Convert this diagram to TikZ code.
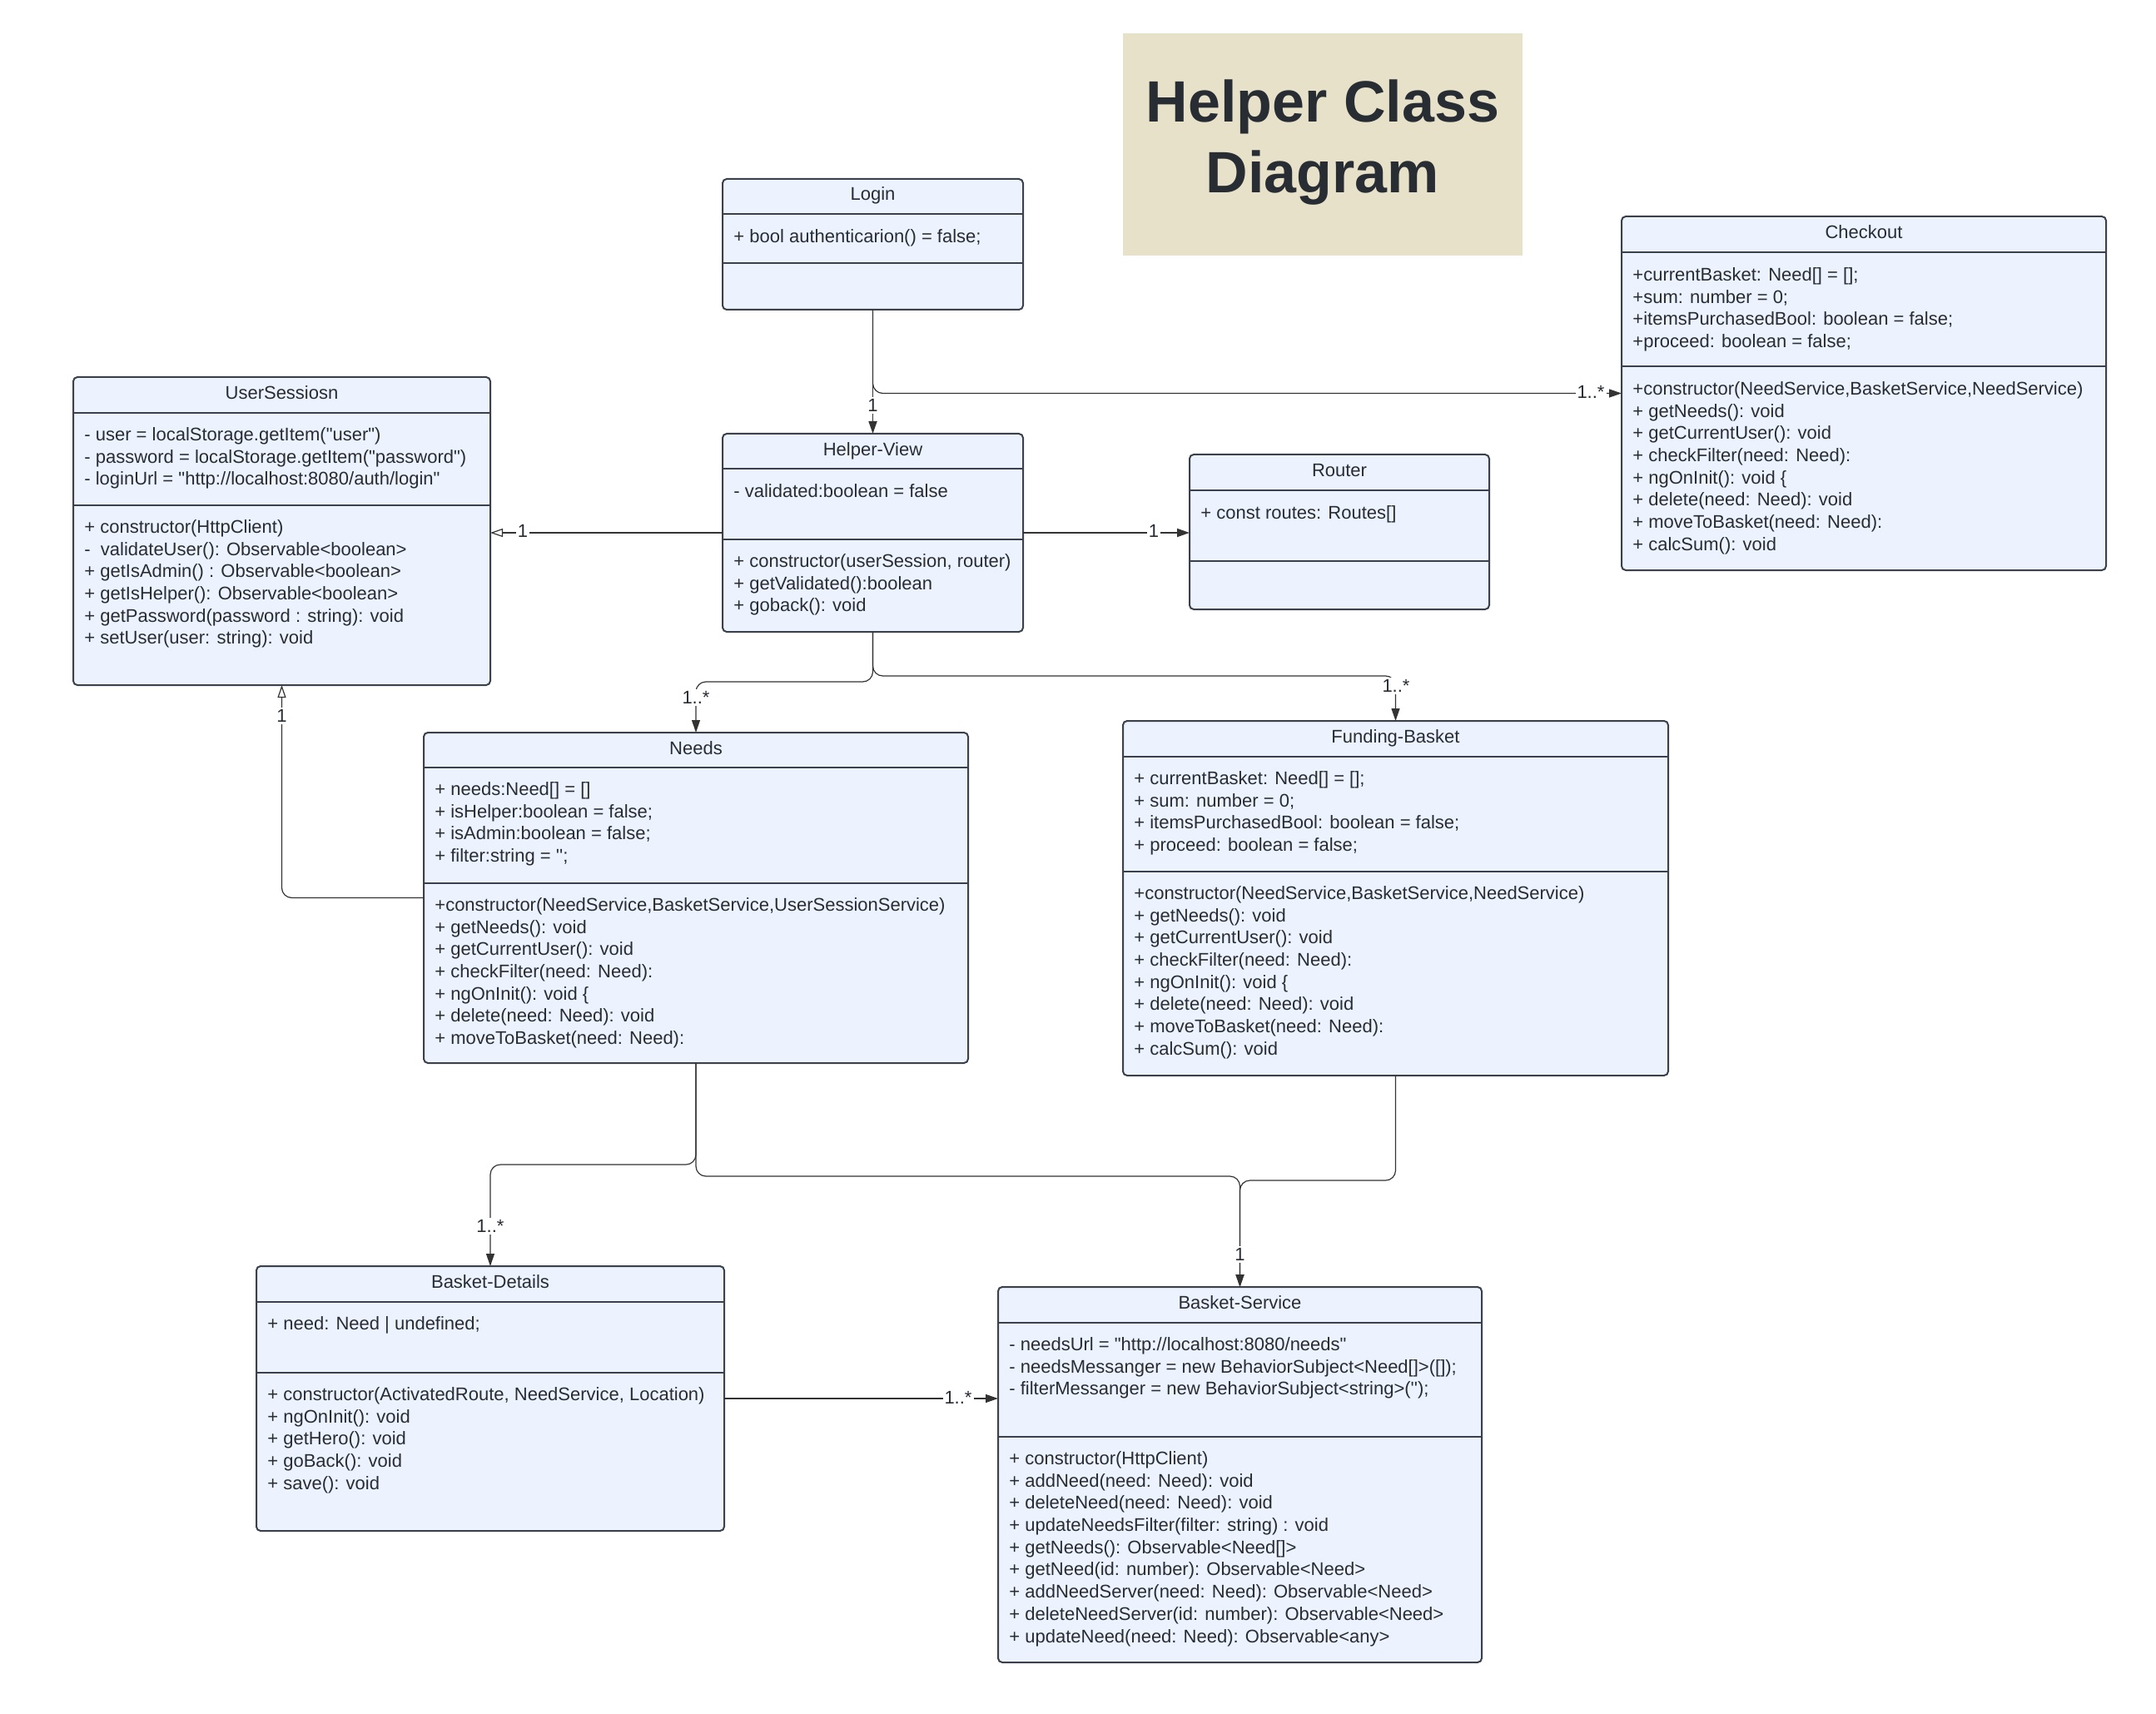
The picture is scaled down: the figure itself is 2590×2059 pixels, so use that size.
\documentclass[tikz,border=0pt]{standalone}
\usepackage{fontspec}
\setmainfont{Liberation Sans}[Ligatures=TeXOff]
\usetikzlibrary{arrows.meta,fit,calc}
\definecolor{boxfill}{HTML}{EDF3FE}
\definecolor{boxline}{HTML}{3A414A}
\definecolor{txt}{HTML}{282C33}
\definecolor{connc}{HTML}{333333}
\definecolor{titlebg}{HTML}{E7E1C9}
\newcommand{\dq}{\symbol{34}}
\newcommand{\sq}{\symbol{39}}
\tikzset{
 classbox/.style={draw=boxline, fill=boxfill, line width=1pt, rounded corners=2.5pt, inner sep=0pt, outer sep=0pt},
 sepline/.style={draw=boxline, line width=1pt},
 classtitle/.style={anchor=base, inner sep=0pt, text=txt, font=\fontsize{11}{13.35}\selectfont},
 comptext/.style={anchor=north west, inner sep=0pt, align=left, text=txt, font=\fontsize{11}{13.35}\selectfont},
 conn/.style={draw=connc, line width=0.6pt, rounded corners=6pt},
 fillarrow/.style={-{Triangle[length=7.5pt,width=5pt]}},
 openarrow/.style={-{Triangle[open,length=7.5pt,width=5pt,fill=white]}},
 mult/.style={fill=white, inner sep=1pt, text=txt, font=\fontsize{11}{13.35}\selectfont},
}
\newcommand{\umlbox}[8]{%
 \node[classbox, fit={(#2,#3) (#4,#5)}] (#1) {};
 \draw[sepline] (#2,#6) -- (#4,#6);
 \draw[sepline] (#2,#7) -- (#4,#7);
 \node[classtitle] (#1-title) at ({(#2+#4)/2},{(#3+#6)/2+5}) {#8};
}
\newcommand{\umltext}[4]{%
 \node[comptext] (#1) at (#2+13, #3-18.69) {\strut#4};
}
\begin{document}
\begin{tikzpicture}[x=0.5pt, y=-0.5pt]
\useasboundingbox (0,0) rectangle (2590,2059);
\fill[white] (0,0) rectangle (2590,2059);

% title
\node[fit={(1349,40) (1829,307)}, fill=titlebg, inner sep=0pt] (titlebox) {};
\node[anchor=north, inner sep=0pt, align=center, text=txt, font=\fontsize{35}{42.5}\selectfont\bfseries] (title) at (1589, 86.5) {\strut Helper Class\\Diagram};

% classes
\umlbox{login}{868}{215}{1229}{372}{257}{316}{Login}
\umltext{login-attr}{868}{291}{+ bool authenticarion() = false;}

\umlbox{helper}{868}{521}{1229}{759}{563}{648}{Helper-View}
\umltext{helper-attr}{868}{597}{- validated:boolean = false}
\umltext{helper-meth}{868}{681}{+ constructor(userSession, router)\\+ getValidated():boolean\\+ goback(): void}

\umlbox{us}{88}{453}{589}{823}{496}{607}{UserSessiosn}
\umltext{us-attr}{88}{529}{- user = localStorage.getItem(\dq user\dq)\\- password = localStorage.getItem(\dq password\dq)\\- loginUrl = \dq http://localhost:8080/auth/login\dq}
\umltext{us-meth}{88}{640}{+ constructor(HttpClient)\\-\ \ validateUser(): Observable<boolean>\\+ getIsAdmin() : Observable<boolean>\\+ getIsHelper(): Observable<boolean>\\+ getPassword(password : string): void\\+ setUser(user: string): void}

\umlbox{router}{1429}{546}{1789}{732}{589}{674}{Router}
\umltext{router-attr}{1429}{623}{+ const routes: Routes[]}

\umlbox{checkout}{1948}{260}{2530}{685}{303}{440}{Checkout}
\umltext{checkout-attr}{1948}{337}{+currentBasket: Need[] = [];\\+sum: number = 0;\\+itemsPurchasedBool: boolean = false;\\+proceed: boolean = false;}
\umltext{checkout-meth}{1948}{474}{+constructor(NeedService,BasketService,NeedService)\\+ getNeeds(): void\\+ getCurrentUser(): void\\+ checkFilter(need: Need):\\+ ngOnInit(): void \{\\+ delete(need: Need): void\\+ moveToBasket(need: Need):\\+ calcSum(): void}

\umlbox{needs}{509}{880}{1163}{1277}{922}{1061}{Needs}
\umltext{needs-attr}{509}{955}{+ needs:Need[] = []\\+ isHelper:boolean = false;\\+ isAdmin:boolean = false;\\+ filter:string = \sq\sq;}
\umltext{needs-meth}{509}{1094}{+constructor(NeedService,BasketService,UserSessionService)\\+ getNeeds(): void\\+ getCurrentUser(): void\\+ checkFilter(need: Need):\\+ ngOnInit(): void \{\\+ delete(need: Need): void\\+ moveToBasket(need: Need):}

\umlbox{funding}{1349}{866}{2004}{1292}{909}{1047}{Funding-Basket}
\umltext{funding-attr}{1349}{942}{+ currentBasket: Need[] = [];\\+ sum: number = 0;\\+ itemsPurchasedBool: boolean = false;\\+ proceed: boolean = false;}
\umltext{funding-meth}{1349}{1080}{+constructor(NeedService,BasketService,NeedService)\\+ getNeeds(): void\\+ getCurrentUser(): void\\+ checkFilter(need: Need):\\+ ngOnInit(): void \{\\+ delete(need: Need): void\\+ moveToBasket(need: Need):\\+ calcSum(): void}

\umlbox{bdetails}{308}{1521}{870}{1839}{1564}{1649}{Basket-Details}
\umltext{bdetails-attr}{308}{1597}{+ need: Need | undefined;}
\umltext{bdetails-meth}{308}{1682}{+ constructor(ActivatedRoute, NeedService, Location)\\+ ngOnInit(): void\\+ getHero(): void\\+ goBack(): void\\+ save(): void}

\umlbox{bservice}{1199}{1546}{1780}{1997}{1589}{1726}{Basket-Service}
\umltext{bservice-attr}{1199}{1622}{- needsUrl = \dq http://localhost:8080/needs\dq\\- needsMessanger = new BehaviorSubject<Need[]>([]);\\- filterMessanger = new BehaviorSubject<string>(\sq\sq);}
\umltext{bservice-meth}{1199}{1759}{+ constructor(HttpClient)\\+ addNeed(need: Need): void\\+ deleteNeed(need: Need): void\\+ updateNeedsFilter(filter: string) : void\\+ getNeeds(): Observable<Need[]>\\+ getNeed(id: number): Observable<Need>\\+ addNeedServer(need: Need): Observable<Need>\\+ deleteNeedServer(id: number): Observable<Need>\\+ updateNeed(need: Need): Observable<any>}

% connectors
\draw[conn, line width=0.9pt, fillarrow] (login.south) -- (helper.north);
\node[mult] (m1) at (1048.5, 487) {1};
\draw[conn, fillarrow] (login.south) |- (checkout.west);
\node[mult] (m2) at (1911, 471) {1..*};

\draw[conn, openarrow] (helper.west) -- (us.east |- helper.west);
\node[mult] (m3) at (628, 638) {1};
\draw[conn, line width=0.9pt, fillarrow] (helper.east) -- (router.west |- helper.east);
\node[mult] (m4) at (1386, 638) {1};

\draw[conn, fillarrow] (helper.south) -- ++(0,60) -| (needs.north);
\node[mult] (m5) at (836, 838) {1..*};
\draw[conn, fillarrow] (helper.south) -- ++(0,53) -| (funding.north);
\node[mult] (m6) at (1677, 824) {1..*};

\draw[conn, openarrow] (needs.west) -| (us.south);
\node[mult] (m7) at (338.5, 860) {1};

\draw[conn, fillarrow] (needs.south) -- ++(0,122) -| (bdetails.north);
\node[mult] (m8) at (589, 1473) {1..*};
\draw[conn, fillarrow] (needs.south) -- ++(0,136) -| (bservice.north);
\draw[conn, fillarrow] (funding.south) -- ++(0,126) -| (bservice.north);
\node[mult] (m9) at (1489.5, 1507) {1};

\draw[conn, fillarrow] (bdetails.east) -- (bservice.west |- bdetails.east);
\node[mult] (m10) at (1151, 1679) {1..*};
\end{tikzpicture}
\end{document}
